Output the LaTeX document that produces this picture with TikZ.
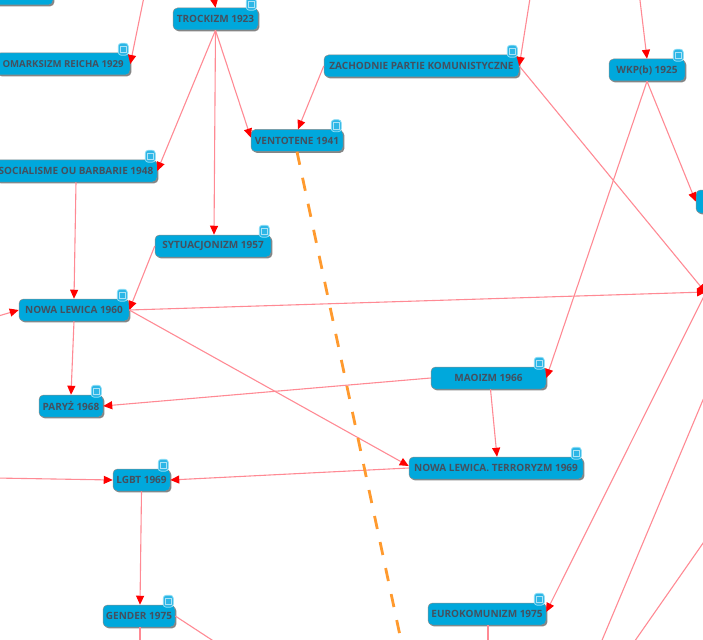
\documentclass[tikz,border=0pt]{standalone}
\usepackage{fontspec}
\setmainfont{Open Sans}
\usetikzlibrary{arrows.meta,shadows}
\definecolor{nodeblue}{HTML}{00A8DC}
\definecolor{nodetext}{HTML}{44505F}
\definecolor{linkpink}{HTML}{FF8A94}
\definecolor{dashorange}{HTML}{FF9A2E}
\definecolor{badgeblue}{HTML}{2DB6E6}
\definecolor{badgeedge}{HTML}{8ADDF5}
\tikzset{
  topic/.style={draw=black!45,line width=.5pt,fill=nodeblue,rounded corners=4.5pt,inner sep=0pt,
    text=nodetext,font=\fontsize{10}{12}\selectfont\bfseries,
    drop shadow={shadow xshift=1.4pt,shadow yshift=-1.4pt,fill=black!60,opacity=.8}},
  badge/.style={draw=badgeedge,line width=.8pt,fill=badgeblue,rounded corners=3pt,minimum width=10pt,minimum height=12pt,inner sep=0pt,
    path picture={\draw[white!60!badgeblue,line width=.4pt,sharp corners] ([xshift=-2.8pt,yshift=-3.4pt]path picture bounding box.center) rectangle ([xshift=2.8pt,yshift=3.4pt]path picture bounding box.center);}},
  link/.style={draw=linkpink,line width=1.1pt,-{Triangle[width=8pt,length=9pt,color=red]}},
  plainlink/.style={draw=linkpink,line width=1.1pt},
  timeline/.style={draw=dashorange,line width=2.8pt,dash pattern=on 13.3pt off 13.3pt}
}
\newcommand{\topicnode}[6]{% name, cx, cy, w, h, text
  \node[topic,minimum width=#4pt,minimum height=#5pt] (#1) at (#2,#3) {#6};
  \node[badge] (#1b) at ([xshift=-7pt,yshift=3.5pt]#1.north east) {};
}
\begin{document}
\begin{tikzpicture}[x=1pt,y=-1pt]
\useasboundingbox (0,0) rectangle (703,639);
\clip (0,0) rectangle (703,639);
% off-canvas ends
\coordinate (t1) at (213,-8);
\coordinate (t2) at (145,-8);
\coordinate (t3) at (531,-8);
\coordinate (t4) at (639,-8);
\coordinate (r1) at (706,293);
\coordinate (r2) at (706,292);
\coordinate (r3) at (708,388);
\coordinate (r4) at (708,536);
\coordinate (b1) at (215,642);
\coordinate (b2) at (140,645);
\coordinate (b3) at (488,645);
\coordinate (b4) at (600,645);
\coordinate (b5) at (632,645);
\coordinate (b6) at (402,645);
\coordinate (l1) at (-5,317);
\coordinate (l2) at (-5,478);
% nodes
\node[topic,minimum width=110pt,minimum height=24pt] (top) at (-2,-7) {};
\topicnode{trock}{215.5}{19}{85}{22}{TROCKIZM 1923}
\topicnode{reich}{63}{64}{134}{22}{\fontsize{9.6}{12}\selectfont OMARKSIZM REICHA 1929}
\topicnode{socbar}{76}{171}{162}{22}{SOCIALISME OU BARBARIE 1948}
\topicnode{vent}{297}{140.5}{92}{22}{VENTOTENE 1941}
\topicnode{zach}{421.5}{66}{195}{22}{ZACHODNIE PARTIE KOMUNISTYCZNE}
\topicnode{wkp}{647}{70}{76}{22}{WKP(b) 1925}
\topicnode{syt}{213}{246}{116}{22}{SYTUACJONIZM 1957}
\topicnode{nowa}{74}{310}{110}{22}{NOWA LEWICA 1960}
\topicnode{paryz}{71}{406}{64}{22}{PARYŻ 1968}
\topicnode{mao}{488.5}{378}{115}{22}{MAOIZM 1966}
\topicnode{terr}{496}{468}{174}{22}{NOWA LEWICA. TERRORYZM 1969}
\topicnode{lgbt}{141.5}{480}{57}{22}{LGBT 1969}
\topicnode{gender}{139}{616}{72}{22}{GENDER 1975}
\topicnode{euro}{487}{614}{118}{22}{EUROKOMUNIZM 1975}
\node[topic,minimum width=40pt,minimum height=23pt] (edge) at (716,201.5) {};
% connectors
\draw[link] (t1) -- (trock.north);
\draw[link] (t2) -- (reich.east);
\draw[link] (trock.south) -- (socbar.east);
\draw[link] (trock.south) -- ([xshift=1pt]syt.north);
\draw[link] (trock.south) -- ([yshift=3pt]vent.west);
\draw[link] (zach.west) -- ([xshift=1pt]vent.north);
\draw[link] (t3) -- (zach.east);
\draw[link] (zach.east) -- (r1);
\draw[link] (t4) -- (wkp.north);
\draw[link] (wkp.south) -- (mao.east);
\draw[link] (wkp.south) -- (edge.west);
\draw[link] (socbar.south) -- (nowa.north);
\draw[link] (syt.west) -- (nowa.east);
\draw[link] (nowa.east) -- (r2);
\draw[link] (l1) -- (nowa.west);
\draw[link] (nowa.south) -- (paryz.north);
\draw[link] (nowa.east) -- ([yshift=2pt]terr.west);
\draw[link] (mao.west) -- (paryz.east);
\draw[link] ([xshift=2pt]mao.south) -- ([xshift=1pt]terr.north);
\draw[link] (terr.west) -- (lgbt.east);
\draw[link] (l2) -- (lgbt.west);
\draw[link] (lgbt.south) -- ([xshift=1pt]gender.north);
\draw[plainlink] (gender.east) -- (b1);
\draw[plainlink] ([xshift=1pt]gender.south) -- (b2);
\draw[plainlink] ([xshift=1pt]euro.south) -- (b3);
\draw[link] (r2) -- ([yshift=2pt]euro.east);
\draw[plainlink] (r3) -- (b4);
\draw[plainlink] (r4) -- (b5);
\draw[timeline] (vent.south) -- (b6);
\end{tikzpicture}
\end{document}
